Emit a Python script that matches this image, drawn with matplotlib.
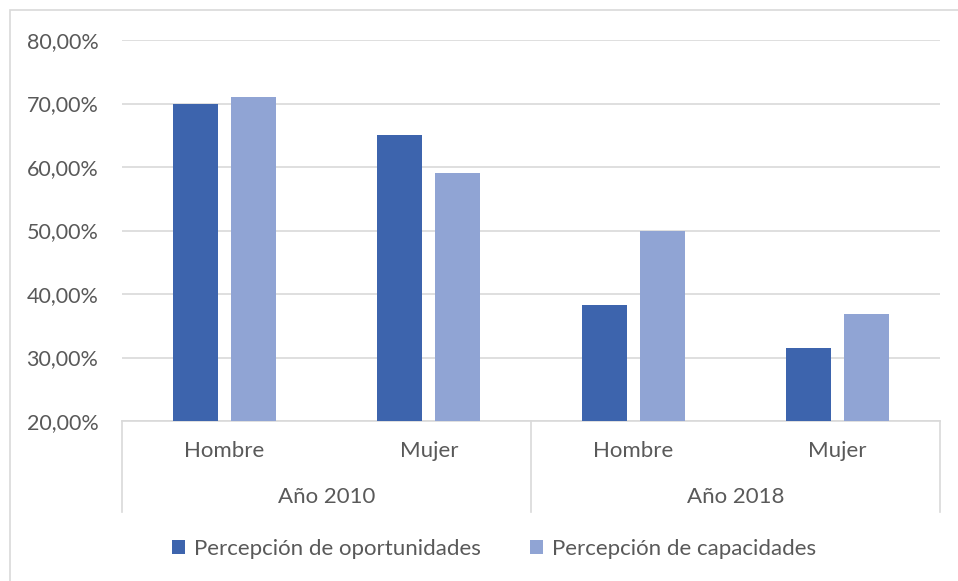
import numpy as np
import matplotlib.pyplot as plt
from matplotlib.patches import Rectangle
from matplotlib.lines import Line2D

plt.rcParams['font.family'] = ['Lato', 'DejaVu Sans']

# data
years = ['Año 2010', 'Año 2018']
sexes = ['Hombre', 'Mujer', 'Hombre', 'Mujer']
oportunidades = [0.70, 0.65, 0.383, 0.315]
capacidades = [0.71, 0.59, 0.50, 0.369]
series_names = ['Percepción de oportunidades', 'Percepción de capacidades']
yticks = [0.2, 0.3, 0.4, 0.5, 0.6, 0.7, 0.8]

dark = '#3D64AD'
light = '#90A4D4'
txt = '#595959'
gridc = '#D9D9D9'

W, H = 958, 581
fig = plt.figure(figsize=(W / 100, H / 100), dpi=100)
# outer chart frame (cropped on right and bottom)
fig.patches.append(Rectangle((10 / W, -0.1), 1.1, 1 - 10 / H + 0.1, transform=fig.transFigure,
                             fill=False, edgecolor=gridc, lw=1.2))

ax = fig.add_axes([122 / W, 1 - 421 / H, (940 - 122) / W, (421 - 40) / H])
x = np.arange(len(sexes))
w = 0.22
off = 0.143
ax.bar(x - off, oportunidades, w, color=dark, label=series_names[0], zorder=3)
ax.bar(x + off, capacidades, w, color=light, label=series_names[1], zorder=3)

ax.set_xlim(-0.5, 3.5)
ax.set_ylim(0.2, 0.8)
ax.set_yticks(yticks)
ax.set_yticklabels([f'{v * 100:.2f}%'.replace('.', ',') for v in yticks])
ax.tick_params(axis='y', length=0, pad=17, labelsize=15.5, labelcolor=txt)
ax.set_xticks([])
ax.grid(axis='y', color=gridc, lw=1.2, zorder=0)
for s in ['top', 'right', 'left']:
    ax.spines[s].set_visible(False)
ax.spines['bottom'].set_color(gridc)
ax.spines['bottom'].set_linewidth(1.2)

# two-level category axis
depth = -0.239
for xv in [0.0, 0.5, 1.0]:
    ax.add_line(Line2D([xv, xv], [0, depth], transform=ax.transAxes, color=gridc,
                       lw=1.2, clip_on=False))
for i, s in enumerate(sexes):
    ax.text(x[i], -0.079, s, transform=ax.get_xaxis_transform(), ha='center', va='center',
            fontsize=16, color=txt)
for j, y in enumerate(years):
    ax.text(0.5 + 2 * j, -0.2, y, transform=ax.get_xaxis_transform(), ha='center', va='center',
            fontsize=16, color=txt)

fig.legend(loc='center', bbox_to_anchor=(494 / W, 1 - 549 / H), ncol=2, frameon=False,
           fontsize=16, labelcolor=txt, handlelength=0.6, handleheight=0.6,
           handletextpad=0.4, columnspacing=2.2)

fig.savefig('out.png', dpi=100)
